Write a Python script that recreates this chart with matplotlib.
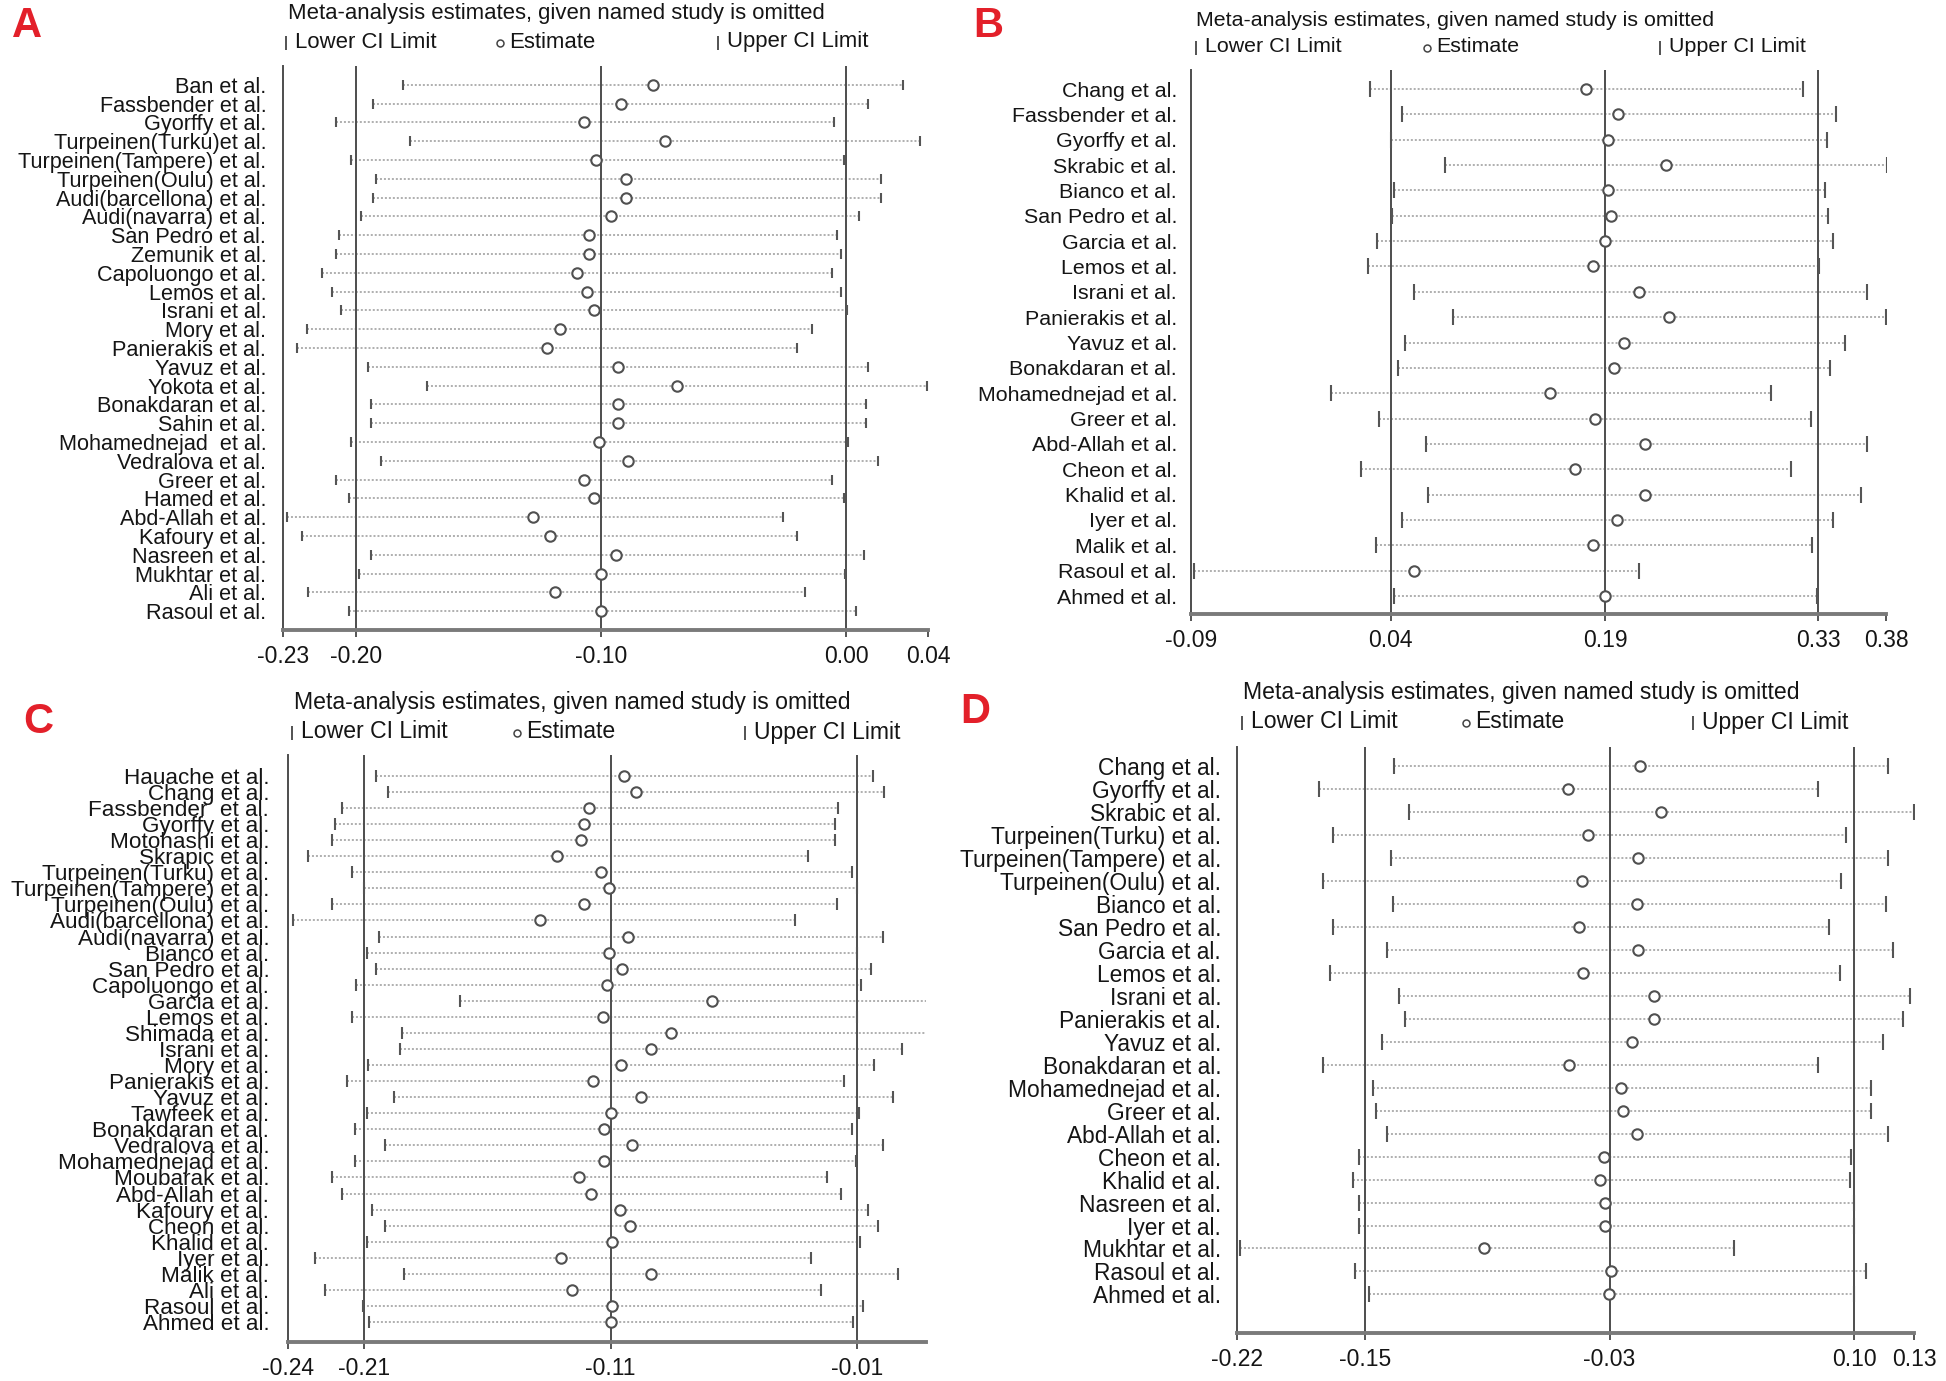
import numpy as np
import matplotlib
matplotlib.use('Agg')
import matplotlib.pyplot as plt
from matplotlib.lines import Line2D

plt.rcParams['font.family'] = ['Liberation Sans', 'DejaVu Sans']

W, H, DPI = 1946, 1381, 100

# ---------------- Panel A ----------------
a_studies = ["Ban et al.", "Fassbender et al.", "Gyorffy et al.", "Turpeinen(Turku)et al.",
             "Turpeinen(Tampere) et al.", "Turpeinen(Oulu) et al.", "Audi(barcellona) et al.",
             "Audi(navarra) et al.", "San Pedro et al.", "Zemunik et al.", "Capoluongo et al.",
             "Lemos et al.", "Israni et al.", "Mory et al.", "Panierakis et al.", "Yavuz et al.",
             "Yokota et al.", "Bonakdaran et al.", "Sahin et al.", "Mohamednejad  et al.",
             "Vedralova et al.", "Greer et al.", "Hamed et al.", "Abd-Allah et al.",
             "Kafoury et al.", "Nasreen et al.", "Mukhtar et al.", "Ali et al.", "Rasoul et al."]
a_lower = [-0.181, -0.193, -0.208, -0.178, -0.202, -0.192, -0.193, -0.198, -0.207, -0.208,
           -0.214, -0.210, -0.206, -0.220, -0.224, -0.195, -0.171, -0.194, -0.194, -0.202,
           -0.190, -0.208, -0.203, -0.228, -0.222, -0.194, -0.199, -0.2195, -0.203]
a_est = [-0.079, -0.092, -0.107, -0.074, -0.102, -0.090, -0.090, -0.096, -0.105, -0.105,
         -0.110, -0.106, -0.103, -0.117, -0.122, -0.093, -0.069, -0.093, -0.093, -0.101,
         -0.089, -0.107, -0.103, -0.128, -0.121, -0.094, -0.100, -0.119, -0.100]
a_upper = [0.023, 0.009, -0.005, 0.030, -0.001, 0.014, 0.014, 0.005, -0.004, -0.002,
           -0.006, -0.002, 0.0004, -0.014, -0.020, 0.009, 0.033, 0.008, 0.008, 0.0005,
           0.013, -0.006, -0.001, -0.026, -0.020, 0.007, -0.0006, -0.017, 0.004]
a_pooled = [-0.20, -0.10, 0.00]
a_range = [-0.2298, 0.0333]
a_ticklabels = ["-0.23", "-0.20", "-0.10", "0.00", "0.04"]

# ---------------- Panel B ----------------
b_studies = ["Chang et al.", "Fassbender et al.", "Gyorffy et al.", "Skrabic et al.",
             "Bianco et al.", "San Pedro et al.", "Garcia et al.", "Lemos et al.",
             "Israni et al.", "Panierakis et al.", "Yavuz et al.", "Bonakdaran et al.",
             "Mohamednejad et al.", "Greer et al.", "Abd-Allah et al.", "Cheon et al.",
             "Khalid et al.", "Iyer et al.", "Malik et al.", "Rasoul et al.", "Ahmed et al."]
b_lower = [0.031, 0.053, 0.045, 0.082, 0.047, 0.046, 0.036, 0.030, 0.061, 0.087, 0.055,
           0.050, 0.005, 0.037, 0.069, 0.025, 0.070, 0.053, 0.035, -0.088, 0.047]
b_est = [0.177, 0.199, 0.192, 0.231, 0.192, 0.194, 0.190, 0.182, 0.213, 0.233, 0.203,
         0.196, 0.153, 0.183, 0.217, 0.170, 0.217, 0.198, 0.182, 0.061, 0.190]
b_upper = [0.324, 0.346, 0.340, 0.381, 0.339, 0.341, 0.344, 0.335, 0.367, 0.380, 0.352,
           0.342, 0.302, 0.329, 0.367, 0.316, 0.363, 0.344, 0.330, 0.213, 0.333]
b_pooled = [0.045, 0.19, 0.334]
b_range = [-0.09, 0.38]
b_ticklabels = ["-0.09", "0.04", "0.19", "0.33", "0.38"]

# ---------------- Panel C ----------------
c_studies = ["Hauache et al.", "Chang et al.", "Fassbender  et al.", "Gyorffy et al.",
             "Motohashi et al.", "Skrapic et al.", "Turpeinen(Turku) et al.",
             "Turpeinen(Tampere) et al.", "Turpeinen(Oulu) et al.", "Audi(barcellona) et al.",
             "Audi(navarra) et al.", "Bianco et al.", "San Pedro et al.", "Capoluongo et al.",
             "Garcia et al.", "Lemos et al.", "Shimada et al.", "Israni et al.", "Mory et al.",
             "Panierakis et al.", "Yavuz et al.", "Tawfeek et al.", "Bonakdaran et al.",
             "Vedralova et al.", "Mohamednejad et al.", "Moubarak et al.", "Abd-Allah et al.",
             "Kafoury et al.", "Cheon et al.", "Khalid et al.", "Iyer et al.", "Malik et al.",
             "Ali et al.", "Rasoul et al.", "Ahmed et al."]
c_lower = [-0.2054, -0.2004, -0.219, -0.222, -0.223, -0.233, -0.215, -0.210, -0.223, -0.239,
           -0.204, -0.209, -0.2054, -0.2134, -0.171, -0.215, -0.1947, -0.1955, -0.2084, -0.217,
           -0.198, -0.209, -0.2136, -0.2017, -0.214, -0.223, -0.219, -0.207, -0.2017, -0.209,
           -0.230, -0.194, -0.226, -0.2104, -0.208]
c_est = [-0.1048, -0.0998, -0.119, -0.121, -0.122, -0.132, -0.114, -0.1105, -0.121, -0.1386,
         -0.1028, -0.1105, -0.1053, -0.1115, -0.069, -0.113, -0.0857, -0.0936, -0.1058, -0.117,
         -0.0976, -0.1098, -0.1127, -0.1013, -0.1127, -0.123, -0.118, -0.1063, -0.1023, -0.1095,
         -0.130, -0.0936, -0.1257, -0.1095, -0.110]
c_upper = [-0.0037, 0.0011, -0.0176, -0.019, -0.019, -0.030, -0.0119, -0.010, -0.018, -0.035,
           0.0006, -0.010, -0.0042, -0.0084, 0.025, -0.010, 0.020, 0.0083, -0.0032, -0.0153,
           0.0048, -0.0094, -0.012, 0.0006, -0.0106, -0.022, -0.0166, -0.0057, -0.0014, -0.0086,
           -0.0288, 0.0068, -0.0245, -0.0076, -0.0116]
c_pooled = [-0.21, -0.11, -0.01]
c_range = [-0.241, 0.018]
c_ticklabels = ["-0.24", "-0.21", "-0.11", "-0.01"]

# ---------------- Panel D ----------------
d_studies = ["Chang et al.", "Gyorffy et al.", "Skrabic et al.", "Turpeinen(Turku) et al.",
             "Turpeinen(Tampere) et al.", "Turpeinen(Oulu) et al.", "Bianco et al.",
             "San Pedro et al.", "Garcia et al.", "Lemos et al.", "Israni et al.",
             "Panierakis et al.", "Yavuz et al.", "Bonakdaran et al.", "Mohamednejad et al.",
             "Greer et al.", "Abd-Allah et al.", "Cheon et al.", "Khalid et al.",
             "Nasreen et al.", "Iyer et al.", "Mukhtar et al.", "Rasoul et al.", "Ahmed et al."]
d_lower = [-0.139, -0.1774, -0.1309, -0.1702, -0.1403, -0.1754, -0.1396, -0.1702, -0.1426,
           -0.1719, -0.1364, -0.1331, -0.1452, -0.1754, -0.1497, -0.1481, -0.1422, -0.1569,
           -0.1601, -0.1569, -0.1569, -0.2184, -0.1588, -0.152]
d_est = [-0.0118, -0.0489, -0.0007, -0.0385, -0.0125, -0.0417, -0.0131, -0.0430, -0.0125,
         -0.0411, -0.0046, -0.0046, -0.016, -0.0482, -0.0216, -0.0206, -0.0134, -0.0303,
         -0.0323, -0.0297, -0.0297, -0.0922, -0.0268, -0.0277]
d_upper = [0.1167, 0.0806, 0.130, 0.0949, 0.1164, 0.0923, 0.1154, 0.0861, 0.119, 0.0916,
           0.1278, 0.1242, 0.1138, 0.0803, 0.1076, 0.1076, 0.1164, 0.0975, 0.0969, 0.0988,
           0.0988, 0.0367, 0.1053, 0.0988]
d_pooled = [-0.1536, -0.0274, 0.0991]
d_range = [-0.22, 0.13]
d_ticklabels = ["-0.22", "-0.15", "-0.03", "0.10", "0.13"]

TITLE = "Meta-analysis estimates, given named study is omitted"
DARK = '#4d4d4d'
TXT = '#151515'
RED = '#e3202a'

fig = plt.figure(figsize=(W / DPI, H / DPI), dpi=DPI)
fig.patch.set_facecolor('white')


def fx(x):
    return x / W


def fy(y):
    return 1 - y / H


def panel(box, ylim, studies, lo, est, hi, pooled, xr, ticklabels, cap, fs, pad,
          hfs, letter, letter_xy, title_xy, legend_xs, legend_y):
    l, r, t, b = box
    ax = fig.add_axes([fx(l), fy(b), (r - l) / W, (b - t) / H])
    n = len(studies)
    y = np.arange(n)
    for yi, lo_, hi_ in zip(y, lo, hi):
        ax.plot([lo_, hi_], [yi, yi], ls=(0, (1.3, 1.3)), color='#9a9a9a', lw=1.1, zorder=1)
    for v in pooled:
        ax.axvline(v, color=DARK, lw=1.4, zorder=2)
    ax.plot(lo, y, ls='none', marker='|', ms=cap, mew=1.5, color='#555555', zorder=3)
    ax.plot(hi, y, ls='none', marker='|', ms=cap, mew=1.5, color='#555555', zorder=3)
    ax.plot(est, y, ls='none', marker='o', ms=7.5, mfc='white', mec='#505050', mew=1.5, zorder=4)
    ax.set_xlim(xr)
    ax.set_ylim(ylim)
    ax.set_yticks(y)
    ax.set_yticklabels(studies, fontsize=fs, color=TXT)
    ax.tick_params(axis='y', length=0, pad=pad)
    ticks = [xr[0]] + list(pooled) + [xr[1]]
    ticks = ticks[:len(ticklabels)]
    ax.set_xticks(ticks)
    ax.set_xticklabels(ticklabels, fontsize=16.5, color=TXT)
    ax.tick_params(axis='x', direction='out', length=5, width=1.4, color='#555555', pad=6)
    for s in ['top', 'right']:
        ax.spines[s].set_visible(False)
    ax.spines['left'].set_color(DARK)
    ax.spines['left'].set_linewidth(1.4)
    ax.spines['bottom'].set_color('#7a7a7a')
    ax.spines['bottom'].set_linewidth(2.8)
    ax.set_facecolor('none')

    # panel letter
    fig.text(fx(letter_xy[0]), fy(letter_xy[1]), letter, color=RED, fontsize=30,
             fontweight='bold', ha='center', va='center')
    # title
    fig.text(fx(title_xy[0]), fy(title_xy[1]), TITLE, fontsize=hfs, color=TXT,
             ha='left', va='center')
    # legend
    markers = ['|', 'o', '|']
    labels = ['Lower CI Limit', 'Estimate', 'Upper CI Limit']
    for xm, mk, lab in zip(legend_xs, markers, labels):
        if mk == '|':
            fig.add_artist(Line2D([fx(xm)], [fy(legend_y + 1)], marker='|', ms=10, mew=1.3,
                                  color='#444444', ls='none', transform=fig.transFigure))
        else:
            fig.add_artist(Line2D([fx(xm)], [fy(legend_y + 1)], marker='o', ms=5, mew=1.1,
                                  mfc='white', mec='#444444', ls='none',
                                  transform=fig.transFigure))
        fig.text(fx(xm + 9), fy(legend_y), lab, fontsize=hfs, color=TXT,
                 ha='left', va='center')
    return ax


panel((283, 928, 66, 630), (29.0, -1.0), a_studies, a_lower, a_est, a_upper,
      a_pooled, a_range, a_ticklabels, 7, 15.6, 12, 15.9,
      'A', (27, 26), (288, 13), (286, 500, 718), 42)

panel((1191, 1886, 70, 614), (20.71, -0.75), b_studies, b_lower, b_est, b_upper,
      b_pooled, b_range, b_ticklabels, 11, 15.4, 10, 15.4,
      'B', (988, 26), (1196, 20), (1196, 1427, 1660), 47)

panel((288, 926, 755, 1342), (35.24, -1.3), c_studies, c_lower, c_est, c_upper,
      c_pooled, c_range, c_ticklabels, 8.5, 16.2, 13.5, 16.6,
      'C', (38, 722), (294, 702), (292, 517, 745), 732)

panel((1237, 1914, 747, 1333), (24.68, -0.84), d_studies, d_lower, d_est, d_upper,
      d_pooled, d_range, d_ticklabels, 11, 16.4, 11.5, 16.6,
      'D', (975, 712), (1243, 693), (1242, 1466, 1693), 722)

fig.savefig('out.png', dpi=DPI, facecolor='white')
